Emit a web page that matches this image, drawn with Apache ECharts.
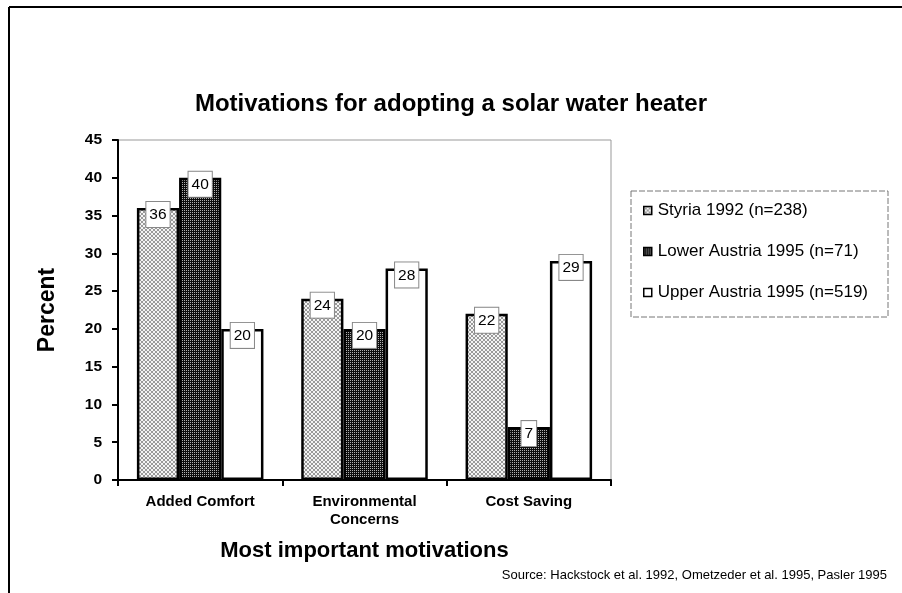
<!DOCTYPE html>
<html>
<head>
<meta charset="utf-8">
<title>Motivations for adopting a solar water heater</title>
<script src="https://cdn.jsdelivr.net/npm/echarts@6/dist/echarts.min.js"></script>
<style>
    html, body { margin: 0; padding: 0; background: #fff; }
    #main { width: 902px; height: 593px; }
</style>
</head>
<body>
<div id="main"></div>
<script>
// 数据
var categories = ['Added Comfort', 'Environmental\nConcerns', 'Cost Saving'];
var seriesNames = ['Styria 1992 (n=238)', 'Lower Austria 1995 (n=71)', 'Upper Austria 1995 (n=519)'];
var styria = [36, 24, 22];
var lowerAustria = [40, 20, 7];
var upperAustria = [20, 28, 29];
var yTicks = { min: 0, max: 45, interval: 5 };

var FONT = 'Arial, "Liberation Sans", sans-serif';

/**
 * 生成网纹填充 (bg 底色, fg 点的颜色)
 */
var makePattern = function (bg, fg, dots) {
    var c = document.createElement('canvas');
    c.width = 4;
    c.height = 4;
    var ctx = c.getContext('2d');
    ctx.fillStyle = bg;
    ctx.fillRect(0, 0, 4, 4);
    ctx.fillStyle = fg;
    for (var i = 0; i < dots.length; i++) {
        ctx.fillRect(dots[i][0], dots[i][1], 1, 1);
    }
    return { image: c, repeat: 'repeat' };
};

// 斜交叉网纹
var crossDots = [[0, 0], [1, 1], [2, 2], [3, 3], [3, 0], [2, 1], [1, 2], [0, 3]];
var lightPattern = makePattern('#f4f4f4', '#9a9a9a', crossDots);
var darkPattern = makePattern('#0d0d0d', '#b0b0b0', [[0, 0], [2, 2], [2, 0], [0, 2]]);

var valueLabel = {
    show: true,
    position: 'insideTop',
    distance: 0,
    offset: [0, -6],
    color: '#000',
    fontFamily: FONT,
    fontSize: 15.5,
    backgroundColor: '#fff',
    borderColor: '#888',
    borderWidth: 1,
    padding: [5, 3, 4, 3]
};

var barStyle = function (fill) {
    return { color: fill, borderColor: '#000', borderWidth: 2.5 };
};

var myChart = echarts.init(document.getElementById('main'), null, { renderer: 'canvas' });

var option = {
    backgroundColor: '#fff',
    animation: false,
    title: {
        text: 'Motivations for adopting a solar water heater',
        left: 'center',
        top: 87,
        textStyle: { fontFamily: FONT, fontSize: 24, fontWeight: 'bold', color: '#000' }
    },
    legend: {
        orient: 'vertical',
        left: 643,
        top: 202,
        padding: 0,
        itemGap: 24,
        itemWidth: 8,
        itemHeight: 8,
        icon: 'rect',
        itemStyle: { borderWidth: 1.5, borderColor: '#000' },
        textStyle: { fontFamily: FONT, fontSize: 17, color: '#000', padding: [0, 0, 0, 1] },
        data: seriesNames
    },
    grid: {
        left: 118,
        right: 291,
        top: 140,
        bottom: 113,
        show: true,
        borderColor: '#999',
        borderWidth: 1
    },
    xAxis: {
        type: 'category',
        data: categories,
        name: 'Most important motivations',
        nameLocation: 'middle',
        nameGap: 60,
        nameTextStyle: { fontFamily: FONT, fontSize: 22, fontWeight: 'bold', color: '#000' },
        axisLine: { lineStyle: { color: '#000', width: 2 } },
        axisTick: { show: true, length: 6, lineStyle: { color: '#000', width: 2 } },
        axisLabel: {
            margin: 13,
            fontFamily: FONT,
            fontSize: 15,
            fontWeight: 'bold',
            color: '#000',
            lineHeight: 18
        }
    },
    yAxis: {
        type: 'value',
        min: yTicks.min,
        max: yTicks.max,
        interval: yTicks.interval,
        name: 'Percent',
        nameLocation: 'middle',
        nameGap: 59,
        nameRotate: 90,
        nameTextStyle: { fontFamily: FONT, fontSize: 23, fontWeight: 'bold', color: '#000' },
        axisLine: { show: true, lineStyle: { color: '#000', width: 2 } },
        axisTick: { show: true, length: 6, lineStyle: { color: '#000', width: 2 } },
        axisLabel: { margin: 16, fontFamily: FONT, fontSize: 15.5, fontWeight: 'bold', color: '#000' },
        splitLine: { show: false }
    },
    series: [
        {
            name: seriesNames[0],
            type: 'bar',
            data: styria,
            barGap: '0%',
            barCategoryGap: '23%',
            itemStyle: barStyle(lightPattern),
            label: valueLabel
        },
        {
            name: seriesNames[1],
            type: 'bar',
            data: lowerAustria,
            itemStyle: barStyle(darkPattern),
            label: valueLabel
        },
        {
            name: seriesNames[2],
            type: 'bar',
            data: upperAustria,
            itemStyle: barStyle('#fff'),
            label: valueLabel
        }
    ],
    graphic: [
        // 外框
        { type: 'line', shape: { x1: 9, y1: 7, x2: 902, y2: 7 }, style: { stroke: '#000', lineWidth: 2 } },
        { type: 'line', shape: { x1: 9, y1: 7, x2: 9, y2: 593 }, style: { stroke: '#000', lineWidth: 2 } },
        // 图例虚线框
        {
            type: 'rect',
            shape: { x: 631, y: 191, width: 257, height: 126 },
            style: { fill: null, stroke: '#777', lineWidth: 1, lineDash: [6, 2] },
            z: -1
        },
        {
            type: 'text',
            right: 15,
            top: 569,
            style: { text: 'Source: Hackstock et al. 1992, Ometzeder et al. 1995, Pasler 1995', fontFamily: FONT, fontSize: 13, fill: '#000' }
        }
    ]
};

myChart.setOption(option);
window.addEventListener('resize', function () {
    myChart.resize();
});
</script>
</body>
</html>
